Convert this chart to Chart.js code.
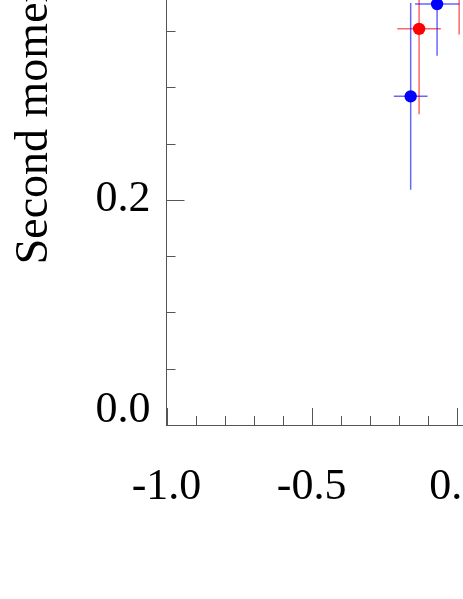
<!DOCTYPE html>
<html>
<head>
<meta charset="utf-8">
<script src="https://cdn.jsdelivr.net/npm/chart.js@4"></script>
<style>
  body { margin: 0; background: #fff; }
  #wrap { position: relative; width: 463px; height: 599px; overflow: hidden; }
  #c { position: absolute; left: 0; top: -194px; }
</style>
</head>
<body>
<div id="wrap"><canvas id="c" width="602" height="793"></canvas></div>
<script>
// values
const redX = [-0.130, 0.008];
const redY = [0.352, 0.420];
const redXErr = [0.075, 0.075];
const redYErr = [0.076, 0.073];

const blueX = [-0.159, -0.068];
const blueY = [0.292, 0.374];
const blueXErr = [0.058, 0.076];
const blueYErr = [0.083, 0.046];

const xMajor = 0.5;
const yMajor = 0.2;

const axisColor = '#555';
const serif = 'Liberation Serif';

function isMajor(v, step) {
  return Math.abs(v / step - Math.round(v / step)) < 1e-6;
}

function points(xs, ys) {
  return xs.map((x, i) => ({ x: x, y: ys[i] }));
}

// error bars, drawn under the markers
const errorBars = {
  id: 'errorBars',
  beforeDatasetsDraw(chart) {
    const ctx = chart.ctx;
    const xs = chart.scales.x, ys = chart.scales.y;
    const area = chart.chartArea;
    ctx.save();
    ctx.beginPath();
    ctx.rect(area.left, area.top, area.right - area.left, area.bottom - area.top);
    ctx.clip();
    chart.data.datasets.forEach(ds => {
      ctx.strokeStyle = ds.errColor;
      ctx.lineWidth = 1.5;
      ds.data.forEach((p, i) => {
        const px = xs.getPixelForValue(p.x);
        const py = ys.getPixelForValue(p.y);
        ctx.beginPath();
        ctx.moveTo(xs.getPixelForValue(p.x - ds.xErr[i]), py);
        ctx.lineTo(xs.getPixelForValue(p.x + ds.xErr[i]), py);
        ctx.moveTo(px, ys.getPixelForValue(p.y - ds.yErr[i]));
        ctx.lineTo(px, ys.getPixelForValue(p.y + ds.yErr[i]));
        ctx.stroke();
      });
    });
    ctx.restore();
  }
};

// inward tick marks
const inTicks = {
  id: 'inTicks',
  afterDraw(chart) {
    const ctx = chart.ctx;
    const xs = chart.scales.x, ys = chart.scales.y;
    const area = chart.chartArea;
    ctx.save();
    ctx.strokeStyle = axisColor;
    ctx.lineWidth = 1;
    ctx.beginPath();
    xs.ticks.forEach(t => {
      const px = Math.round(xs.getPixelForValue(t.value)) + 0.5;
      const len = isMajor(t.value, xMajor) ? 17 : 9;
      ctx.moveTo(px, area.bottom);
      ctx.lineTo(px, area.bottom - len);
    });
    ys.ticks.forEach(t => {
      const py = Math.round(ys.getPixelForValue(t.value)) + 0.5;
      const len = isMajor(t.value, yMajor) ? 18 : 9;
      ctx.moveTo(area.left, py);
      ctx.lineTo(area.left + len, py);
    });
    ctx.stroke();
    ctx.restore();
  }
};

new Chart(document.getElementById('c'), {
  type: 'scatter',
  data: {
    datasets: [
      {
        label: 'red',
        data: points(redX, redY),
        xErr: redXErr,
        yErr: redYErr,
        errColor: 'rgba(255,0,0,0.6)',
        backgroundColor: '#ff0000',
        borderWidth: 0,
        pointRadius: 6.2
      },
      {
        label: 'blue',
        data: points(blueX, blueY),
        xErr: blueXErr,
        yErr: blueYErr,
        errColor: 'rgba(0,0,255,0.6)',
        backgroundColor: '#0000ff',
        borderWidth: 0,
        pointRadius: 6.2
      }
    ]
  },
  options: {
    responsive: false,
    animation: false,
    layout: { padding: 0, autoPadding: false },
    plugins: { legend: { display: false }, tooltip: { enabled: false } },
    scales: {
      x: {
        type: 'linear',
        min: -1,
        max: 0.5,
        border: { display: true, color: axisColor, width: 1 },
        grid: { drawOnChartArea: false, drawTicks: false },
        ticks: {
          stepSize: 0.1,
          autoSkip: false,
          maxRotation: 0,
          padding: 36,
          color: '#000',
          font: { family: serif, size: 44 },
          callback: v => isMajor(v, xMajor) ? v.toFixed(1) : ''
        },
        afterFit(s) {
          s.height = 174;
          s.paddingLeft = 0;
          s.paddingRight = 0;
        }
      },
      y: {
        type: 'linear',
        min: 0,
        max: 0.55,
        border: { display: true, color: axisColor, width: 1 },
        grid: { drawOnChartArea: false, drawTicks: false },
        ticks: {
          stepSize: 0.05,
          autoSkip: false,
          padding: 16,
          color: '#000',
          font: { family: serif, size: 44, lineHeight: '30px' },
          callback: v => {
            if (!isMajor(v, yMajor)) return '';
            return v === 0 ? ['0.0', ''] : v.toFixed(1);
          }
        },
        title: {
          display: true,
          text: 'Second moment',
          color: '#000',
          font: { family: serif, size: 46 },
          padding: { top: 7, bottom: 0 }
        },
        afterFit(s) {
          s.width = 166.5;
          s.paddingTop = 0;
          s.paddingBottom = 0;
        }
      }
    }
  },
  plugins: [errorBars, inTicks]
});
</script>
</body>
</html>
